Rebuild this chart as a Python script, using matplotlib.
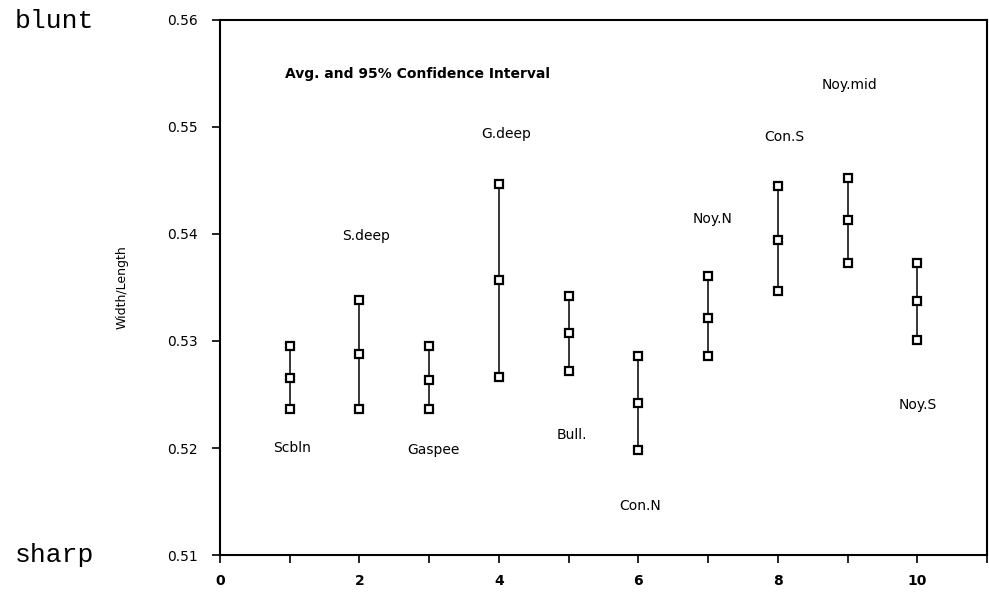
import matplotlib.pyplot as plt

# station index and averages with 95% confidence limits
stations = [1, 2, 3, 4, 5, 6, 7, 8, 9, 10]
avg = [0.5265, 0.5288, 0.5264, 0.5357, 0.5307, 0.5242, 0.5321, 0.5394, 0.5413, 0.5337]
upper = [0.5295, 0.5338, 0.5295, 0.5447, 0.5342, 0.5286, 0.5361, 0.5445, 0.5452, 0.5373]
lower = [0.5236, 0.5236, 0.5236, 0.5266, 0.5272, 0.5198, 0.5286, 0.5347, 0.5373, 0.5301]

names = ["Scbln", "S.deep", "Gaspee", "G.deep", "Bull.", "Con.N",
         "Noy.N", "Con.S", "Noy.mid", "Noy.S"]
name_x = [1.03, 2.1, 3.06, 4.1, 5.04, 6.03, 7.07, 8.09, 9.03, 10.01]
name_y = [0.5200, 0.5398, 0.5198, 0.5493, 0.5212, 0.5146, 0.5414, 0.5491, 0.5539, 0.5240]

fig = plt.figure(figsize=(9.89, 6.02), dpi=100)
ax = fig.add_axes([0.2224, 0.078, 0.7756, 0.889])

for x, lo, m, hi in zip(stations, lower, avg, upper):
    ax.plot([x, x], [lo, hi], color='black', lw=1.1, zorder=1)
    ax.plot([x, x, x], [lo, m, hi], ls='none', marker='s', ms=6,
            mfc='white', mec='black', mew=1.6, zorder=2)

for n, tx, ty in zip(names, name_x, name_y):
    ax.text(tx, ty, n, ha='center', va='center', fontsize=10)

ax.text(0.93, 0.5549, "Avg. and 95% Confidence Interval", ha='left', va='center',
        fontsize=10, fontweight='bold')

ax.set_xlim(0, 11)
ax.set_ylim(0.51, 0.56)
ax.set_xticks(range(0, 12))
ax.set_xticklabels([str(i) if i % 2 == 0 and i <= 10 else "" for i in range(12)])
ax.set_yticks([0.51, 0.52, 0.53, 0.54, 0.55, 0.56])
ax.set_yticklabels(["0.51", "0.52", "0.53", "0.54", "0.55", "0.56"])
ax.tick_params(direction='out', length=6, width=1.2, labelsize=10)
ax.tick_params(axis='x', pad=8)
ax.tick_params(axis='y', pad=10)
for lab in ax.get_xticklabels():
    lab.set_fontweight('bold')
for s in ax.spines.values():
    s.set_linewidth(1.5)

ax.set_ylabel("Width/Length", fontsize=9, labelpad=28)

fig.text(0.015, 0.965, "blunt", fontsize=19, family='Liberation Mono', va='center')
fig.text(0.015, 0.078, "sharp", fontsize=19, family='Liberation Mono', va='center')

fig.savefig("out.png", dpi=100)
